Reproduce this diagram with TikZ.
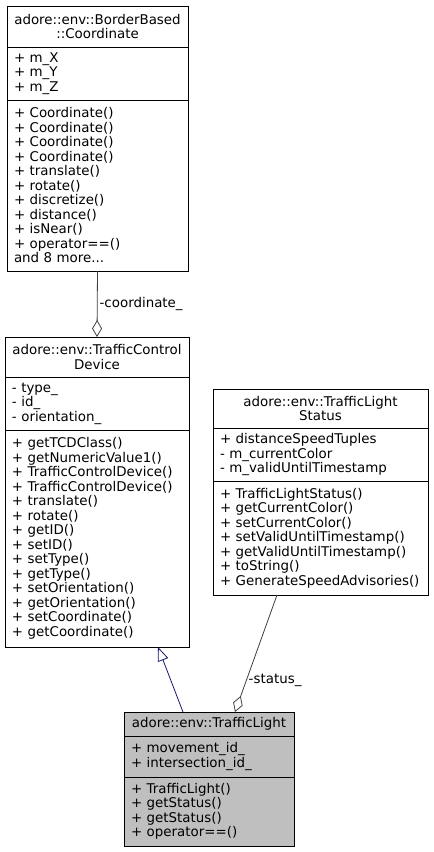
\documentclass[tikz,border=0pt]{standalone}
\usepackage{fontspec}
\setmainfont{DejaVu Sans}
\usetikzlibrary{arrows.meta,positioning}

\definecolor{tlgray}{HTML}{BFBFBF}
\definecolor{inhblue}{HTML}{191970}
\definecolor{agggray}{HTML}{404040}

\begin{document}
\begin{tikzpicture}[x=1pt,y=-1pt,line width=0.8pt,
	font=\fontsize{13.4}{14.5}\selectfont,
	umlpart/.style={draw=black,fill=white,inner xsep=7pt,inner ysep=0pt,outer sep=0pt,
		text width=#1,align=left,anchor=north,
		execute at begin node={\hyphenpenalty=10000\exhyphenpenalty=10000}},
	umlhead/.style={umlpart=#1,align=center},
	aggedge/.style={draw=agggray,-{Diamond[open,length=17pt,width=10pt]}},
	inhedge/.style={draw=inhblue,-{Triangle[open,length=14pt,width=11pt]}},
	lbl/.style={inner sep=2pt}]

\useasboundingbox (0,0) rectangle (434,852);

% adore::env::BorderBased::Coordinate
\node[umlhead=167pt,minimum height=41pt] (coordT) at (97.5,6)
	{adore::env::BorderBased\\::Coordinate};
\node[umlpart=167pt,minimum height=53pt,below=0pt of coordT] (coordA)
	{+ m\_X\\+ m\_Y\\+ m\_Z};
\node[umlpart=167pt,minimum height=171pt,below=0pt of coordA] (coordO)
	{+ Coordinate()\\+ Coordinate()\\+ Coordinate()\\+ Coordinate()\\
	+ translate()\\+ rotate()\\+ discretize()\\+ distance()\\+ isNear()\\
	+ operator==()\\and 8 more...};

% adore::env::TrafficControlDevice
\node[umlhead=170pt,minimum height=40pt] (tcdT) at (97,337)
	{adore::env::TrafficControl\\Device};
\node[umlpart=170pt,minimum height=53pt,below=0pt of tcdT] (tcdA)
	{- type\_\\- id\_\\- orientation\_};
\node[umlpart=170pt,minimum height=217pt,below=0pt of tcdA] (tcdO)
	{+ getTCDClass()\\+ getNumericValue1()\\+ TrafficControlDevice()\\
	+ TrafficControlDevice()\\+ translate()\\+ rotate()\\+ getID()\\+ setID()\\
	+ setType()\\+ getType()\\+ setOrientation()\\+ getOrientation()\\
	+ setCoordinate()\\+ getCoordinate()};

% adore::env::TrafficLightStatus
\node[umlhead=201pt,minimum height=39pt] (tlsT) at (320.5,389)
	{adore::env::TrafficLight\\Status};
\node[umlpart=201pt,minimum height=53pt,below=0pt of tlsT] (tlsA)
	{+ distanceSpeedTuples\\- m\_currentColor\\- m\_validUntilTimestamp};
\node[umlpart=201pt,minimum height=114pt,below=0pt of tlsA] (tlsO)
	{+ TrafficLightStatus()\\+ getCurrentColor()\\+ setCurrentColor()\\
	+ setValidUntilTimestamp()\\+ getValidUntilTimestamp()\\+ toString()\\
	+ GenerateSpeedAdvisories()};

% adore::env::TrafficLight
\node[umlhead=156pt,minimum height=24pt,fill=tlgray] (tlT) at (209,712)
	{adore::env::TrafficLight};
\node[umlpart=156pt,minimum height=41pt,fill=tlgray,below=0pt of tlT] (tlA)
	{+ movement\_id\_\\+ intersection\_id\_};
\node[umlpart=156pt,minimum height=69pt,fill=tlgray,below=0pt of tlA] (tlO)
	{+ TrafficLight()\\+ getStatus()\\+ getStatus()\\+ operator==()};

% relations
\draw[aggedge] (coordO.south) -- node[midway,right,lbl] {-coordinate\_} (tcdT.north);
\draw[inhedge] ([xshift=-26pt]tlT.north) -- ([xshift=61pt]tcdO.south);
\draw[aggedge] ([xshift=-43.5pt]tlsO.south) -- node[pos=0.73,right,lbl] {-status\_}
	([xshift=26pt]tlT.north);

\end{tikzpicture}
\end{document}
